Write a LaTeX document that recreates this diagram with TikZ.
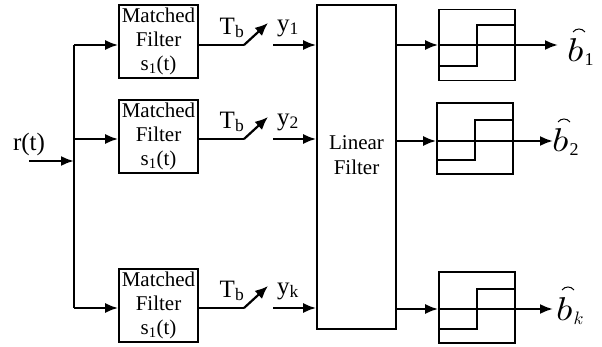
\documentclass[tikz,border=0pt]{standalone}
\usepackage{graphicx}
\usepackage{fontspec}
\setmainfont{Liberation Serif}
\usetikzlibrary{arrows.meta}
\newcommand{\bsym}[1]{\scalebox{3.8}[3.3]{$b$}\kern1pt\raisebox{-4pt}{\scalebox{1.8}{#1}}}
\begin{document}
\begin{tikzpicture}[x=1pt,y=-1pt,
  wire/.style={line width=2.2pt},
  arr/.style={line width=2.2pt,-{Latex[length=13pt,width=10pt]}},
  mfbox/.style={draw,line width=1.6pt,minimum width=79pt,minimum height=73pt,inner sep=0pt,
    font=\fontsize{21}{24}\selectfont,align=center},
  lfbox/.style={draw,line width=1.6pt,minimum width=79pt,minimum height=324pt,inner sep=0pt},
  dbox/.style={draw,line width=1.6pt,minimum width=76pt,minimum height=71pt,inner sep=0pt},
  lbl/.style={font=\fontsize{25}{27}\selectfont,inner sep=0pt},
  blbl/.style={inner sep=0pt,anchor=base west},
  hatarc/.style={line width=1pt},
  stepl/.style={line width=1.6pt}]
\useasboundingbox (0,0) rectangle (602,347);

% matched filters
\node[mfbox] (mf1) at (158.5,41.5) {Matched\\Filter\\s\textsubscript{1}(t)};
\node[mfbox] (mf2) at (158.5,136.5) {Matched\\Filter\\s\textsubscript{1}(t)};
\node[mfbox] (mf3) at (158.5,305.5) {Matched\\Filter\\s\textsubscript{1}(t)};

% linear filter
\node[lfbox] (lf) at (356.5,167) {};
\node[font=\fontsize{21}{25}\selectfont,align=center] (lft) at (356.5,155) {Linear\\Filter};

% decision boxes
\node[dbox] (d1) at (477,45) {};
\node[dbox] (d2) at (475,138.5) {};
\node[dbox] (d3) at (477,307.5) {};

% bus
\coordinate (bt) at (74,45);
\coordinate (bm) at (74,139);
\coordinate (bb) at (74,308);
\coordinate (rin) at (29,161);
\coordinate (rbus) at (74,161);
\draw[wire] (bt) -- (bb);
\draw[arr] (rin) -- (rbus);
\node[font=\fontsize{25}{27}\selectfont] (rt) at (29,144) {r(t)};

\draw[arr] (bt) -- (bt -| mf1.west);
\draw[arr] (bm) -- (bm -| mf2.west);
\draw[arr] (bb) -- (bb -| mf3.west);

% switches
\foreach \i/\y in {1/45,2/139,3/308}{
  \coordinate (sa\i) at (244,\y);
  \coordinate (sb\i) at (268,\y-22);
  \coordinate (sc\i) at (273,\y);
  \draw[wire] (mf\i.east |- sa\i) -- (sa\i);
  \draw[line width=2.2pt,-{Latex[length=13pt,width=11pt]}] (sa\i) -- (sb\i);
  \draw[arr] (sc\i) -- (sc\i -| lf.west);
  \node[lbl] (tb\i) at (232,\y-17) {T\textsubscript{b}};
}
\node[lbl] (y1) at (288,28) {y\textsubscript{1}};
\node[lbl] (y2) at (288,122) {y\textsubscript{2}};
\node[lbl] (y3) at (288,291) {y\textsubscript{k}};

% outputs
\coordinate (o1) at (558,45);
\coordinate (o2) at (553,141);
\coordinate (o3) at (553,309);
\draw[arr] (lf.east |- o1) -- (d1.west |- o1);
\draw[arr] (d1.west |- o1) -- (o1);
\draw[arr] (lf.east |- o2) -- (d2.west |- o2);
\draw[arr] (d2.west |- o2) -- (o2);
\draw[arr] (lf.east |- o3) -- (d3.west |- o3);
\draw[arr] (d3.west |- o3) -- (o3);

% step characteristics
\draw[stepl] (439,66) -- (477,66) -- (477,25) -- (515,25);
\draw[stepl] (437,160) -- (475,160) -- (475,120) -- (513,120);
\draw[stepl] (439,329) -- (477,329) -- (477,289) -- (515,289);

% output labels
\node[blbl] (b1) at (567,62) {\bsym{1}};
\node[blbl] (b2) at (552,152) {\bsym{2}};
\node[blbl] (b3) at (556,320) {\bsym{$k$}};
\foreach \n in {b1,b2,b3}{
  \draw[hatarc] ([shift={(6,-30)}]\n.base west) .. controls ([shift={(9,-34)}]\n.base west) and ([shift={(15,-34)}]\n.base west) .. ([shift={(18,-30)}]\n.base west);
}
\end{tikzpicture}
\end{document}
